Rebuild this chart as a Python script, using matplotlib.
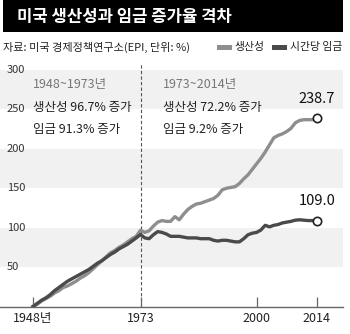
import matplotlib
matplotlib.use("Agg")
import matplotlib.pyplot as plt
from matplotlib.patches import Rectangle

plt.rcParams['font.family'] = ['Noto Sans CJK KR', 'DejaVu Sans']

years = list(range(1948, 2015))
productivity = [0, 3, 7, 10, 13, 17, 20, 24, 26, 29, 32, 36, 39, 43, 48, 53, 58, 63, 68, 71,
                75, 78, 82, 86, 89, 96.7, 94, 96, 102, 107, 109, 108, 108, 114, 110, 117, 123,
                127, 130, 131, 133, 135, 137, 141, 148, 150, 151, 152, 156, 162, 167, 174, 181,
                188, 196, 205, 214, 217, 219, 222, 226, 233, 236, 237, 237, 237, 238.7]
wages = [0, 4, 8, 11, 15, 20, 24, 28, 32, 35, 38, 41, 44, 47, 51, 55, 58, 62, 66, 69,
         73, 76, 79, 83, 87, 91.3, 87, 86, 91, 95, 94, 92, 89, 89, 89, 88, 87,
         87, 87, 86, 86, 86, 84, 83, 84, 84, 83, 82, 82, 86, 91, 93, 94,
         97, 103, 101, 103, 104, 106, 107, 108, 109.5, 110, 109.5, 109, 109, 109.0]

y_ticks = [50, 100, 150, 200, 250, 300]
x_ticks = [1948, 1973, 2000, 2014]
x_tick_labels = ['1948년', '1973', '2000', '2014']
bands = [(50, 100), (150, 200), (250, 300)]

title = '미국 생산성과 임금 증가율 격차'
source = '자료: 미국 경제정책연구소(EPI, 단위: %)'
series_names = ['생산성', '시간당 임금']
period1 = ['1948~1973년', '생산성 96.7% 증가', '임금 91.3% 증가']
period2 = ['1973~2014년', '생산성 72.2% 증가', '임금 9.2% 증가']

c_prod = '#8e8e8e'
c_wage = '#4a4a4a'

W, H = 350, 334
fig = plt.figure(figsize=(W / 100, H / 100), dpi=100)
fig.patch.set_facecolor('white')

# title bar
fig.patches.append(Rectangle((3 / W, 1 - 32 / H), 340 / W, 32 / H, transform=fig.transFigure,
                             facecolor='black', edgecolor='none'))
fig.text(17 / W, 1 - 17 / H, title, color='white', fontsize=12, fontweight='bold',
         va='center', ha='left')
fig.text(3 / W, 1 - 47 / H, source, color='#222222', fontsize=8, va='center', ha='left')

# legend
fig.patches.append(Rectangle((217 / W, 1 - 50 / H), 15 / W, 5 / H, transform=fig.transFigure,
                             facecolor=c_prod, edgecolor='none'))
fig.text(235 / W, 1 - 47 / H, series_names[0], color='#222222', fontsize=7.8, va='center', ha='left')
fig.patches.append(Rectangle((272 / W, 1 - 50 / H), 15 / W, 5 / H, transform=fig.transFigure,
                             facecolor=c_wage, edgecolor='none'))
fig.text(290 / W, 1 - 47 / H, series_names[1], color='#222222', fontsize=7.8, va='center', ha='left')

x0 = 1948 - 33 / 4.3
x1 = 1948 + (343 - 33) / 4.3
ax = fig.add_axes([0, (H - 306.5) / H, 343 / W, (306.5 - 70) / H])
ax.set_xlim(x0, x1)
ax.set_ylim(0, 300)
ax.set_facecolor('white')

for lo, hi in bands:
    ax.axhspan(lo, hi, color='#f1f1f1', lw=0, zorder=0)

for v in y_ticks:
    ax.text(x0 + 7 / 4.3, v, str(v), fontsize=8, color='#333333', va='center', ha='left')

ax.axvline(1973, ymin=0, ymax=1.03, color='#555555', lw=0.8, ls=(0, (3, 2)), clip_on=False, zorder=1)

ax.plot(years, productivity, color=c_prod, lw=2.4, solid_joinstyle='round', zorder=3)
ax.plot(years, wages, color=c_wage, lw=2.4, solid_joinstyle='round', zorder=3)

ax.plot([years[-1]], [productivity[-1]], 'o', ms=6, mfc='white', mec='#222222', mew=1.2, zorder=5)
ax.plot([years[-1]], [wages[-1]], 'o', ms=6, mfc='white', mec='#222222', mew=1.2, zorder=5)
ax.annotate(f'{productivity[-1]:.1f}', (years[-1], productivity[-1]), xytext=(0, 14),
            textcoords='offset points', ha='center', va='center', fontsize=10.5, color='#111111')
ax.annotate(f'{wages[-1]:.1f}', (years[-1], wages[-1]), xytext=(0, 14),
            textcoords='offset points', ha='center', va='center', fontsize=10.5, color='#111111')

def ypix(p):
    return (306.5 - p) / 0.788

for xpos, texts in [(33, period1), (163, period2)]:
    xd = x0 + xpos / 4.3
    ax.text(xd, ypix(85), texts[0], fontsize=9, color='#777777', va='center', ha='left')
    ax.text(xd, ypix(108), texts[1], fontsize=9, color='#222222', va='center', ha='left')
    ax.text(xd, ypix(130), texts[2], fontsize=9, color='#222222', va='center', ha='left')

for s in ['top', 'right', 'left']:
    ax.spines[s].set_visible(False)
ax.spines['bottom'].set_color('#666666')
ax.spines['bottom'].set_linewidth(1.0)
ax.set_yticks([])
ax.set_xticks(x_ticks)
ax.set_xticklabels(x_tick_labels, fontsize=9, color='#222222')
ax.tick_params(axis='x', direction='in', length=7, width=0.9, color='#666666', pad=4)

fig.savefig('out.png', dpi=100, facecolor='white')
